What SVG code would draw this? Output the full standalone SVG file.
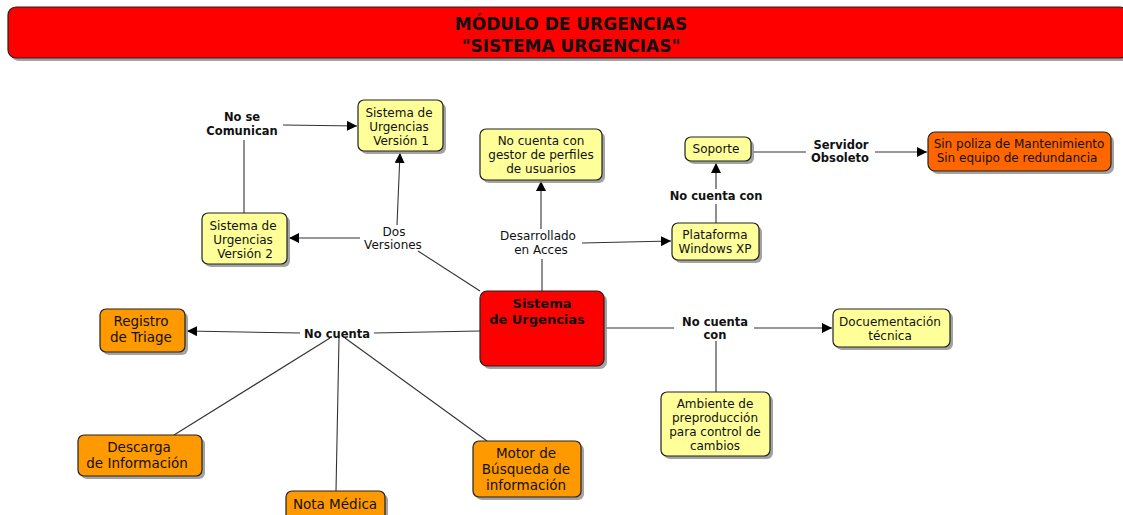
<svg xmlns="http://www.w3.org/2000/svg" width="1123" height="515" viewBox="0 0 1123 515">
<style>
.sh{fill:#8c8c8c;opacity:0.8}
.n{stroke:#222;stroke-width:1.2}
.y{fill:#ffff99}
.o{fill:#ff9900}
.r{fill:#ff0000}
.oo{fill:#ff6600}
text{font-family:"DejaVu Sans","Liberation Sans",sans-serif;fill:#111;text-anchor:middle}
.t{font-size:12px}
.ot{font-size:13.5px}
.lb{font-size:11.5px;font-weight:bold}
.ln{font-size:12px}
.ttl{font-size:17px;font-weight:bold}
.c{fill:none;stroke:#333;stroke-width:1.1}
</style>
<defs>
<marker id="ar" viewBox="0 0 10 10" refX="10" refY="5" markerWidth="10" markerHeight="10" markerUnits="userSpaceOnUse" orient="auto">
<path d="M0,0 L10,5 L0,10 z" fill="#000"/>
</marker>
</defs>
<rect width="1123" height="515" fill="#fff"/>
<g id="title">
<rect class="sh" x="11" y="10" width="1120" height="51" rx="8"/>
<rect class="n r" x="8" y="7" width="1120" height="51" rx="8"/>
<text class="ttl" x="571" y="30">MÓDULO DE URGENCIAS</text>
<text class="ttl" x="571" y="52">"SISTEMA URGENCIAS"</text>
</g>
<g id="connectors">
<path class="c" d="M480,291 L418,251"/>
<path class="c" d="M360,238 L289,238" marker-end="url(#ar)"/>
<path class="c" d="M397,225 L400,153" marker-end="url(#ar)"/>
<path class="c" d="M244,213 L244,140"/>
<path class="c" d="M283,125 L357,126" marker-end="url(#ar)"/>
<path class="c" d="M542,291 L542,259"/>
<path class="c" d="M541,229 L541,181" marker-end="url(#ar)"/>
<path class="c" d="M582,243 L671,241" marker-end="url(#ar)"/>
<path class="c" d="M716,223 L716,204"/>
<path class="c" d="M716,189 L716,163" marker-end="url(#ar)"/>
<path class="c" d="M753,152 L806,152"/>
<path class="c" d="M875,152 L927,152" marker-end="url(#ar)"/>
<path class="c" d="M606,328 L674,328"/>
<path class="c" d="M754,328 L832,328" marker-end="url(#ar)"/>
<path class="c" d="M716,341 L716,392"/>
<path class="c" d="M480,331 L374,333"/>
<path class="c" d="M300,333 L187,331" marker-end="url(#ar)"/>
<path class="c" d="M330,338 L174,435"/>
<path class="c" d="M339,338 L336,491"/>
<path class="c" d="M345,338 L487,441"/>
<text class="lb" x="242" y="121">No se</text>
<text class="lb" x="242" y="135">Comunican</text>
<text class="ln" x="394" y="236">Dos</text>
<text class="ln" x="393" y="249">Versiones</text>
<text class="ln" x="538" y="240">Desarrollado</text>
<text class="ln" x="541" y="254">en Acces</text>
<text class="lb" x="716" y="200">No cuenta con</text>
<text class="lb" x="841" y="149">Servidor</text>
<text class="lb" x="840" y="162">Obsoleto</text>
<text class="lb" x="337" y="338">No cuenta</text>
<text class="lb" x="715" y="326">No cuenta</text>
<text class="lb" x="715" y="339">con</text>
</g>
<g id="v1">
<rect class="sh" x="361" y="103" width="85" height="51" rx="6"/>
<rect class="n y" x="358" y="100" width="85" height="51" rx="6"/>
<text class="t" x="399" y="117">Sistema de</text>
<text class="t" x="399" y="131">Urgencias</text>
<text class="t" x="401" y="145">Versión 1</text>
</g>
<g id="v2">
<rect class="sh" x="205" y="216" width="85" height="51" rx="6"/>
<rect class="n y" x="202" y="213" width="85" height="51" rx="6"/>
<text class="t" x="243" y="230">Sistema de</text>
<text class="t" x="243" y="244">Urgencias</text>
<text class="t" x="245" y="258">Versión 2</text>
</g>
<g id="gestor">
<rect class="sh" x="483" y="132" width="122" height="51" rx="6"/>
<rect class="n y" x="480" y="129" width="122" height="51" rx="6"/>
<text class="t" x="541" y="145">No cuenta con</text>
<text class="t" x="541" y="159">gestor de perfiles</text>
<text class="t" x="541" y="173">de usuarios</text>
</g>
<g id="soporte">
<rect class="sh" x="688" y="140" width="66" height="24" rx="6"/>
<rect class="n y" x="685" y="137" width="66" height="24" rx="6"/>
<text class="t" x="716" y="153">Soporte</text>
</g>
<g id="sinpoliza">
<rect class="sh" x="931" y="135" width="183" height="39" rx="7"/>
<rect class="n oo" x="928" y="132" width="183" height="39" rx="7"/>
<text class="t" x="1019" y="148">Sin poliza de Mantenimiento</text>
<text class="t" x="1017" y="162">Sin equipo de redundancia</text>
</g>
<g id="plataforma">
<rect class="sh" x="675" y="226" width="87" height="37" rx="6"/>
<rect class="n y" x="672" y="223" width="87" height="37" rx="6"/>
<text class="t" x="715" y="239">Plataforma</text>
<text class="t" x="715" y="253">Windows XP</text>
</g>
<g id="sistema">
<rect class="sh" x="483" y="294" width="124" height="75" rx="7"/>
<rect class="n r" x="480" y="291" width="124" height="75" rx="7"/>
<text class="lb" style="font-size:13px" x="542" y="308">Sistema</text>
<text class="lb" style="font-size:13px" x="537" y="324">de Urgencias</text>
</g>
<g id="doc">
<rect class="sh" x="836" y="312" width="117" height="38" rx="6"/>
<rect class="n y" x="833" y="309" width="117" height="38" rx="6"/>
<text class="t" x="890" y="326">Docuementación</text>
<text class="t" x="890" y="340">técnica</text>
</g>
<g id="ambiente">
<rect class="sh" x="664" y="395" width="109" height="64" rx="6"/>
<rect class="n y" x="661" y="392" width="109" height="64" rx="6"/>
<text class="t" x="715" y="408">Ambiente de</text>
<text class="t" x="715" y="422">preproducción</text>
<text class="t" x="715" y="436">para control de</text>
<text class="t" x="715" y="450">cambios</text>
</g>
<g id="triage">
<rect class="sh" x="103" y="312" width="85" height="43" rx="6"/>
<rect class="n o" x="100" y="309" width="85" height="43" rx="6"/>
<text class="ot" x="141" y="326">Registro</text>
<text class="ot" x="141" y="342">de Triage</text>
</g>
<g id="descarga">
<rect class="sh" x="81" y="438" width="124" height="41" rx="6"/>
<rect class="n o" x="78" y="435" width="124" height="41" rx="6"/>
<text class="ot" x="139" y="452">Descarga</text>
<text class="ot" x="137" y="468">de Información</text>
</g>
<g id="nota">
<rect class="sh" x="289" y="494" width="99" height="30" rx="6"/>
<rect class="n o" x="286" y="491" width="99" height="30" rx="6"/>
<text class="ot" x="335" y="509">Nota Médica</text>
</g>
<g id="motor">
<rect class="sh" x="476" y="444" width="108" height="56" rx="6"/>
<rect class="n o" x="473" y="441" width="108" height="56" rx="6"/>
<text class="ot" x="526" y="458">Motor de</text>
<text class="ot" x="526" y="474">Búsqueda de</text>
<text class="ot" x="526" y="490">información</text>
</g>
</svg>
